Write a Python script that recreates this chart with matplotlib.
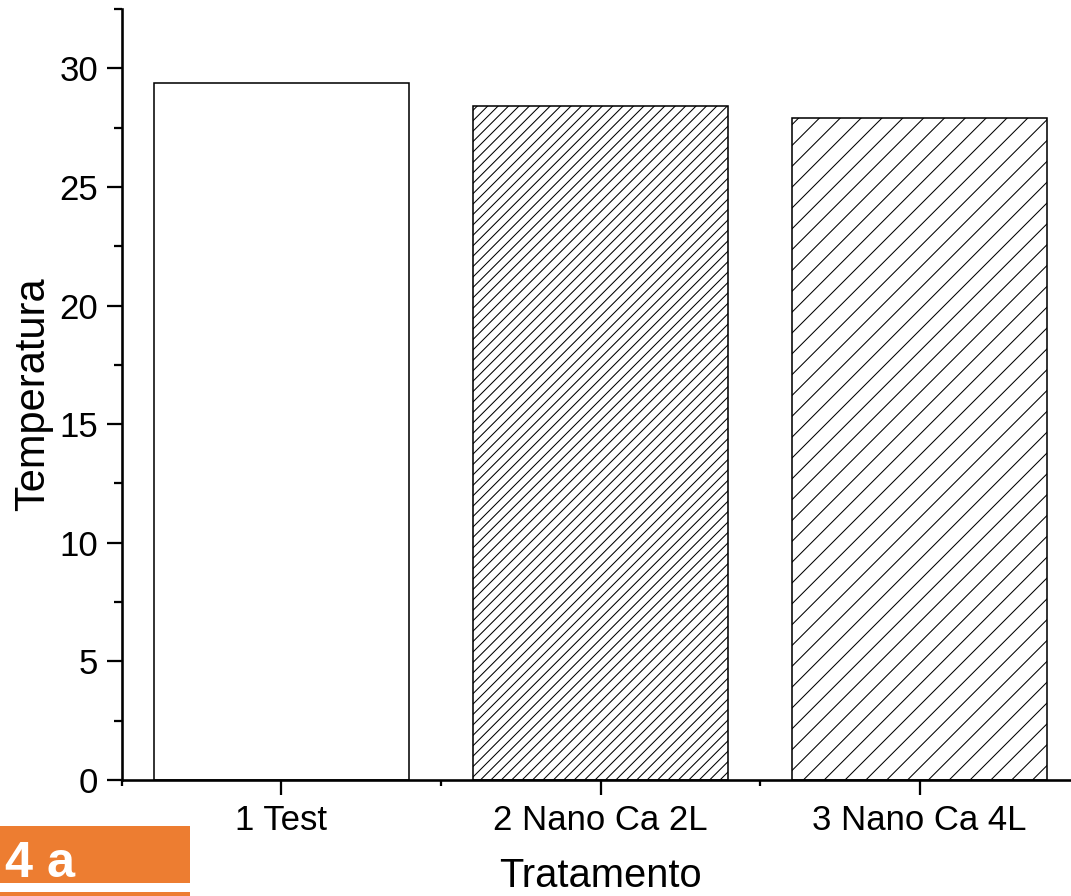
import matplotlib.pyplot as plt
from matplotlib.patches import Rectangle
from matplotlib.ticker import MultipleLocator, FixedLocator

plt.rcParams['font.family'] = ['Liberation Sans', 'DejaVu Sans']
plt.rcParams['hatch.linewidth'] = 0.6

# Dados
tratamentos = ["1 Test", "2 Nano Ca 2L", "3 Nano Ca 4L"]
temperatura = [29.4, 28.4, 27.9]
hachuras = ["", "////", "//"]
posicoes = [1, 2, 3]

fig = plt.figure(figsize=(8.568, 7.168), dpi=125)
ax = fig.add_axes([0.1139, 0.1295, 0.8936, 0.8605])

for x, y, h in zip(posicoes, temperatura, hachuras):
    ax.bar(x, y, width=0.8, facecolor='white', edgecolor='black',
           linewidth=0.9, hatch=h)

ax.set_xlim(0.5, 3.5)
ax.set_ylim(0, 32.5)
ax.set_xticks(posicoes)
ax.set_xticklabels(tratamentos)
ax.xaxis.set_minor_locator(FixedLocator([0.5, 1.5, 2.5, 3.5]))
ax.yaxis.set_major_locator(MultipleLocator(5))
ax.yaxis.set_minor_locator(MultipleLocator(2.5))

for s in ['top', 'right']:
    ax.spines[s].set_visible(False)
for s in ['left', 'bottom']:
    ax.spines[s].set_linewidth(1.5)

ax.tick_params(which='major', length=8.6, width=1.3, labelsize=20, pad=5)
ax.tick_params(which='minor', length=4.6, width=1.3)
ax.tick_params(axis='x', which='minor', length=3.5)

ax.set_xlabel('Tratamento', fontsize=23, labelpad=12)
ax.set_ylabel('Temperatura', fontsize=24, labelpad=4)

# Etiqueta laranja
W, H = 1071, 896
fig.patches.append(Rectangle((0, (H - 883) / H), 190 / W, 57 / H,
                             transform=fig.transFigure, facecolor='#ED7D31',
                             edgecolor='none'))
fig.patches.append(Rectangle((0, 0), 190 / W, 4 / H,
                             transform=fig.transFigure, facecolor='#ED7D31',
                             edgecolor='none'))
fig.text(5 / W, (H - 877) / H, '4 a', color='white', fontsize=29,
         fontweight='bold', ha='left', va='baseline')

plt.savefig('out.png', dpi=125)
